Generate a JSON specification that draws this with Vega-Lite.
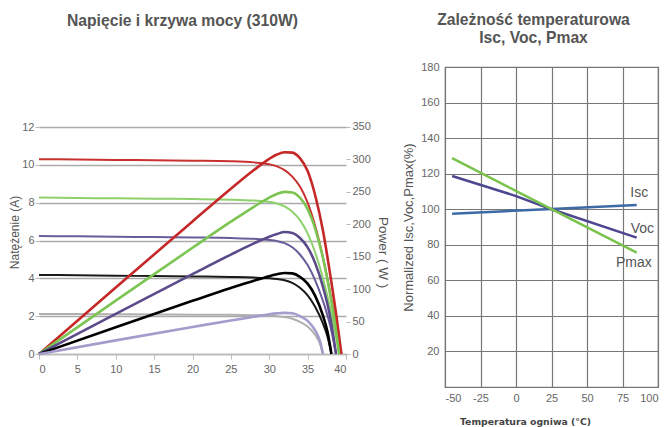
{
  "$schema": "https://vega.github.io/schema/vega-lite/v6.json",
  "padding": {"left": 8, "top": 11, "right": 4, "bottom": 0},
  "config": {
    "font": "Liberation Sans",
    "view": {"stroke": null},
    "axis": {"labelFont": "Liberation Sans", "labelColor": "#666", "labelFontSize": 11, "titleFont": "Liberation Sans", "titleColor": "#555", "titleFontWeight": "normal", "titleFontSize": 12, "domainColor": "#bbb", "tickColor": "#bbb", "gridColor": "#aaa", "tickCount": 30, "labelExpr": "'' + datum.value"},
    "title": {"font": "Liberation Sans", "fontSize": 15.7, "fontWeight": "bold", "color": "#555"}
  },
  "resolve": {"scale": {"color": "independent"}},
  "datasets": {
    "iv": [
      {"s": "I1000", "V": 0, "I": 10.3}, {"s": "I1000", "V": 5, "I": 10.28}, {"s": "I1000", "V": 10, "I": 10.26}, {"s": "I1000", "V": 15, "I": 10.24}, {"s": "I1000", "V": 20, "I": 10.22}, {"s": "I1000", "V": 25, "I": 10.19}, {"s": "I1000", "V": 28, "I": 10.13}, {"s": "I1000", "V": 30, "I": 10.03}, {"s": "I1000", "V": 31, "I": 9.92}, {"s": "I1000", "V": 32, "I": 9.72}, {"s": "I1000", "V": 33, "I": 9.38}, {"s": "I1000", "V": 34, "I": 8.85}, {"s": "I1000", "V": 35, "I": 8.0}, {"s": "I1000", "V": 36, "I": 6.75}, {"s": "I1000", "V": 37, "I": 5.1}, {"s": "I1000", "V": 38, "I": 3.1}, {"s": "I1000", "V": 38.8, "I": 1.4}, {"s": "I1000", "V": 39.4, "I": 0},
      {"s": "I800", "V": 0, "I": 8.27}, {"s": "I800", "V": 5, "I": 8.25}, {"s": "I800", "V": 10, "I": 8.23}, {"s": "I800", "V": 15, "I": 8.21}, {"s": "I800", "V": 20, "I": 8.19}, {"s": "I800", "V": 25, "I": 8.16}, {"s": "I800", "V": 28, "I": 8.11}, {"s": "I800", "V": 30, "I": 8.04}, {"s": "I800", "V": 31, "I": 7.96}, {"s": "I800", "V": 32, "I": 7.8}, {"s": "I800", "V": 33, "I": 7.52}, {"s": "I800", "V": 34, "I": 7.08}, {"s": "I800", "V": 35, "I": 6.38}, {"s": "I800", "V": 36, "I": 5.35}, {"s": "I800", "V": 37, "I": 4.0}, {"s": "I800", "V": 38, "I": 2.3}, {"s": "I800", "V": 38.6, "I": 1.15}, {"s": "I800", "V": 39.1, "I": 0},
      {"s": "I600", "V": 0, "I": 6.24}, {"s": "I600", "V": 5, "I": 6.22}, {"s": "I600", "V": 10, "I": 6.2}, {"s": "I600", "V": 15, "I": 6.18}, {"s": "I600", "V": 20, "I": 6.16}, {"s": "I600", "V": 25, "I": 6.13}, {"s": "I600", "V": 28, "I": 6.09}, {"s": "I600", "V": 30, "I": 6.03}, {"s": "I600", "V": 31, "I": 5.97}, {"s": "I600", "V": 32, "I": 5.86}, {"s": "I600", "V": 33, "I": 5.64}, {"s": "I600", "V": 34, "I": 5.26}, {"s": "I600", "V": 35, "I": 4.7}, {"s": "I600", "V": 36, "I": 3.88}, {"s": "I600", "V": 37, "I": 2.8}, {"s": "I600", "V": 38, "I": 1.4}, {"s": "I600", "V": 38.7, "I": 0},
      {"s": "I400", "V": 0, "I": 4.18}, {"s": "I400", "V": 5, "I": 4.16}, {"s": "I400", "V": 10, "I": 4.14}, {"s": "I400", "V": 15, "I": 4.12}, {"s": "I400", "V": 20, "I": 4.1}, {"s": "I400", "V": 25, "I": 4.07}, {"s": "I400", "V": 28, "I": 4.04}, {"s": "I400", "V": 30, "I": 4.0}, {"s": "I400", "V": 31, "I": 3.96}, {"s": "I400", "V": 32, "I": 3.9}, {"s": "I400", "V": 33, "I": 3.76}, {"s": "I400", "V": 34, "I": 3.5}, {"s": "I400", "V": 35, "I": 3.1}, {"s": "I400", "V": 36, "I": 2.48}, {"s": "I400", "V": 37, "I": 1.6}, {"s": "I400", "V": 37.6, "I": 0.9}, {"s": "I400", "V": 38.1, "I": 0},
      {"s": "I200", "V": 0, "I": 2.12}, {"s": "I200", "V": 5, "I": 2.11}, {"s": "I200", "V": 10, "I": 2.1}, {"s": "I200", "V": 15, "I": 2.09}, {"s": "I200", "V": 20, "I": 2.08}, {"s": "I200", "V": 25, "I": 2.07}, {"s": "I200", "V": 28, "I": 2.05}, {"s": "I200", "V": 30, "I": 2.03}, {"s": "I200", "V": 31, "I": 2.0}, {"s": "I200", "V": 32, "I": 1.95}, {"s": "I200", "V": 33, "I": 1.86}, {"s": "I200", "V": 34, "I": 1.7}, {"s": "I200", "V": 35, "I": 1.45}, {"s": "I200", "V": 36, "I": 1.0}, {"s": "I200", "V": 36.6, "I": 0.55}, {"s": "I200", "V": 37.0, "I": 0}
    ],
    "moc": [
      {"s": "P1000", "V": 0, "P": 0}, {"s": "P1000", "V": 10, "P": 102.6}, {"s": "P1000", "V": 20, "P": 204.4}, {"s": "P1000", "V": 25, "P": 254.8}, {"s": "P1000", "V": 28, "P": 283.6}, {"s": "P1000", "V": 30, "P": 300.9}, {"s": "P1000", "V": 31, "P": 307.5}, {"s": "P1000", "V": 32, "P": 311}, {"s": "P1000", "V": 33, "P": 310.5}, {"s": "P1000", "V": 34, "P": 302}, {"s": "P1000", "V": 35, "P": 282}, {"s": "P1000", "V": 36, "P": 244}, {"s": "P1000", "V": 37, "P": 190}, {"s": "P1000", "V": 38, "P": 118}, {"s": "P1000", "V": 38.8, "P": 54}, {"s": "P1000", "V": 39.4, "P": 0},
      {"s": "P800", "V": 0, "P": 0}, {"s": "P800", "V": 10, "P": 82.3}, {"s": "P800", "V": 20, "P": 163.8}, {"s": "P800", "V": 25, "P": 204}, {"s": "P800", "V": 28, "P": 227}, {"s": "P800", "V": 30, "P": 241.2}, {"s": "P800", "V": 31, "P": 246.8}, {"s": "P800", "V": 32, "P": 250}, {"s": "P800", "V": 33, "P": 249}, {"s": "P800", "V": 34, "P": 241}, {"s": "P800", "V": 35, "P": 223.3}, {"s": "P800", "V": 36, "P": 192.6}, {"s": "P800", "V": 37, "P": 148}, {"s": "P800", "V": 38, "P": 87.4}, {"s": "P800", "V": 38.6, "P": 44.4}, {"s": "P800", "V": 39.1, "P": 0},
      {"s": "P600", "V": 0, "P": 0}, {"s": "P600", "V": 10, "P": 62}, {"s": "P600", "V": 20, "P": 123.2}, {"s": "P600", "V": 25, "P": 153.3}, {"s": "P600", "V": 28, "P": 170.5}, {"s": "P600", "V": 30, "P": 180.9}, {"s": "P600", "V": 31, "P": 185}, {"s": "P600", "V": 32, "P": 188}, {"s": "P600", "V": 33, "P": 186.5}, {"s": "P600", "V": 34, "P": 178.8}, {"s": "P600", "V": 35, "P": 164.5}, {"s": "P600", "V": 36, "P": 139.7}, {"s": "P600", "V": 37, "P": 103.6}, {"s": "P600", "V": 38, "P": 53.2}, {"s": "P600", "V": 38.7, "P": 0},
      {"s": "P400", "V": 0, "P": 0}, {"s": "P400", "V": 10, "P": 41.4}, {"s": "P400", "V": 20, "P": 82}, {"s": "P400", "V": 25, "P": 101.8}, {"s": "P400", "V": 28, "P": 113.1}, {"s": "P400", "V": 30, "P": 120}, {"s": "P400", "V": 31, "P": 122.8}, {"s": "P400", "V": 32, "P": 125}, {"s": "P400", "V": 33, "P": 124.3}, {"s": "P400", "V": 34, "P": 119}, {"s": "P400", "V": 35, "P": 108.5}, {"s": "P400", "V": 36, "P": 89.3}, {"s": "P400", "V": 37, "P": 59.2}, {"s": "P400", "V": 37.6, "P": 33.8}, {"s": "P400", "V": 38.1, "P": 0},
      {"s": "P200", "V": 0, "P": 0}, {"s": "P200", "V": 10, "P": 21}, {"s": "P200", "V": 20, "P": 41.6}, {"s": "P200", "V": 25, "P": 51.75}, {"s": "P200", "V": 28, "P": 57.4}, {"s": "P200", "V": 30, "P": 61.2}, {"s": "P200", "V": 31, "P": 62.6}, {"s": "P200", "V": 32, "P": 63.4}, {"s": "P200", "V": 33, "P": 62.7}, {"s": "P200", "V": 34, "P": 58.5}, {"s": "P200", "V": 35, "P": 51}, {"s": "P200", "V": 36, "P": 36}, {"s": "P200", "V": 36.6, "P": 20.1}, {"s": "P200", "V": 37.0, "P": 0}
    ],
    "temp": [
      {"k": "Isc", "T": -45, "v": 97.5}, {"k": "Isc", "T": 25, "v": 100.1}, {"k": "Isc", "T": 85, "v": 102.4},
      {"k": "Voc", "T": -45, "v": 118.7}, {"k": "Voc", "T": 0, "v": 107.4}, {"k": "Voc", "T": 25, "v": 100}, {"k": "Voc", "T": 85, "v": 84},
      {"k": "Pmax", "T": -45, "v": 128.8}, {"k": "Pmax", "T": 25, "v": 100}, {"k": "Pmax", "T": 85, "v": 75.6}
    ],
    "etykiety": [
      {"k": "Isc", "T": 86.8, "v": 109},
      {"k": "Voc", "T": 89, "v": 88.7},
      {"k": "Pmax", "T": 83, "v": 69.5}
    ]
  },
  "spacing": 12,
  "hconcat": [
    {
      "width": 307,
      "height": 287,
      "title": {"text": "Napięcie i krzywa mocy (310W)", "offset": 37, "frame": "group", "dx": -10},
      "layer": [
        {
          "layer": [
            {
              "data": {"name": "iv"},
              "mark": {"type": "line", "strokeWidth": 2, "interpolate": "monotone"},
              "encoding": {
                "x": {"field": "V", "type": "quantitative", "scale": {"domain": [0, 40], "nice": false},
                      "axis": {"values": [0, 5, 10, 15, 20, 25, 30, 35, 40], "tickCount": 30, "grid": false, "title": null, "tickSize": 5, "labelPadding": 4, "domainWidth": 1.5}},
                "y": {"field": "I", "type": "quantitative", "scale": {"domain": [0, 15.172], "nice": false},
                      "axis": {"values": [0, 2, 4, 6, 8, 10, 12], "tickCount": 30, "grid": true, "gridWidth": 1.5, "domain": false, "title": "Natężenie (A)", "titleY": 165, "titleAlign": "center", "tickSize": 4, "labelPadding": 1, "titlePadding": 0, "labelOverlap": false}},
                "color": {"field": "s", "type": "nominal", "legend": null,
                          "scale": {"domain": ["I1000", "I800", "I600", "I400", "I200", "P1000", "P800", "P600", "P400", "P200"],
                                    "range": ["#c8312f", "#8ed16b", "#6a5c9a", "#1a1a1a", "#b0b0b0", "#c62828", "#7cc552", "#5b4b8a", "#000000", "#a69bcb"]}}
              }
            },
            {
              "mark": {"type": "rule", "color": "#bbb", "strokeWidth": 1.5},
              "encoding": {
                "x": {"datum": 0, "type": "quantitative"},
                "y": {"datum": 0, "type": "quantitative"},
                "y2": {"datum": 12}
              }
            },
            {
              "mark": {"type": "rule", "color": "#bbb", "strokeWidth": 1.5},
              "encoding": {
                "x": {"datum": 40, "type": "quantitative"},
                "y": {"datum": 0, "type": "quantitative"},
                "y2": {"datum": 12}
              }
            }
          ]
        },
        {
          "data": {"name": "moc"},
          "mark": {"type": "line", "strokeWidth": 2.6, "interpolate": "monotone"},
          "encoding": {
            "x": {"field": "V", "type": "quantitative"},
            "y": {"field": "P", "type": "quantitative", "scale": {"domain": [0, 442.5], "nice": false},
                  "axis": {"orient": "right", "values": [0, 50, 100, 150, 200, 250, 300, 350], "tickCount": 30, "grid": false, "domain": false, "title": "Power ( W )", "titleY": 185, "titleAlign": "center", "titleFontSize": 13.5, "tickSize": 4, "labelPadding": 2, "titlePadding": 5, "labelOverlap": false}},
            "color": {"field": "s", "type": "nominal", "legend": null,
                      "scale": {"domain": ["I1000", "I800", "I600", "I400", "I200", "P1000", "P800", "P600", "P400", "P200"],
                                "range": ["#c8312f", "#8ed16b", "#6a5c9a", "#1a1a1a", "#b0b0b0", "#c62828", "#7cc552", "#5b4b8a", "#000000", "#a69bcb"]}}
          }
        }
      ],
      "resolve": {"scale": {"y": "independent"}}
    },
    {
      "width": 213,
      "height": 320,
      "view": {"stroke": "#777", "strokeWidth": 1.2},
      "title": {"text": ["Zależność temperaturowa", "Isc, Voc, Pmax"], "offset": 14, "lineHeight": 18, "frame": "group", "dx": -18},
      "layer": [
        {
          "data": {"name": "temp"},
          "mark": {"type": "line", "strokeWidth": 2.5},
          "encoding": {
            "x": {"field": "T", "type": "quantitative", "scale": {"domain": [-50, 100], "nice": false},
                  "axis": {"values": [-50, -25, 0, 25, 50, 75, 100], "tickCount": 30, "grid": true, "gridColor": "#777", "gridWidth": 1.2, "ticks": false, "domain": false, "labelPadding": 5, "labelOverlap": false,
                           "title": "Temperatura ogniwa (°C)", "titleX": 80, "titleAlign": "center", "titleFontWeight": "bold", "titleFontSize": 9.3, "titleColor": "#444", "titleFont": "DejaVu Sans", "titlePadding": 14}},
            "y": {"field": "v", "type": "quantitative", "scale": {"domain": [0, 180], "nice": false},
                  "axis": {"values": [20, 40, 60, 80, 100, 120, 140, 160, 180], "tickCount": 30, "grid": true, "gridColor": "#777", "gridWidth": 1.2, "ticks": false, "domain": false, "labelPadding": 6, "labelOverlap": false,
                           "title": "Normalized Isc,Voc,Pmax(%)", "titleFontSize": 13, "titlePadding": 5}},
            "color": {"field": "k", "type": "nominal", "legend": null,
                      "scale": {"domain": ["Isc", "Voc", "Pmax"], "range": ["#3d6aa6", "#4d4790", "#79c24c"]}}
          }
        },
        {
          "data": {"name": "etykiety"},
          "mark": {"type": "text", "fontSize": 14, "color": "#555", "font": "Liberation Sans"},
          "encoding": {
            "x": {"field": "T", "type": "quantitative"},
            "y": {"field": "v", "type": "quantitative"},
            "text": {"field": "k"}
          }
        }
      ]
    }
  ]
}
